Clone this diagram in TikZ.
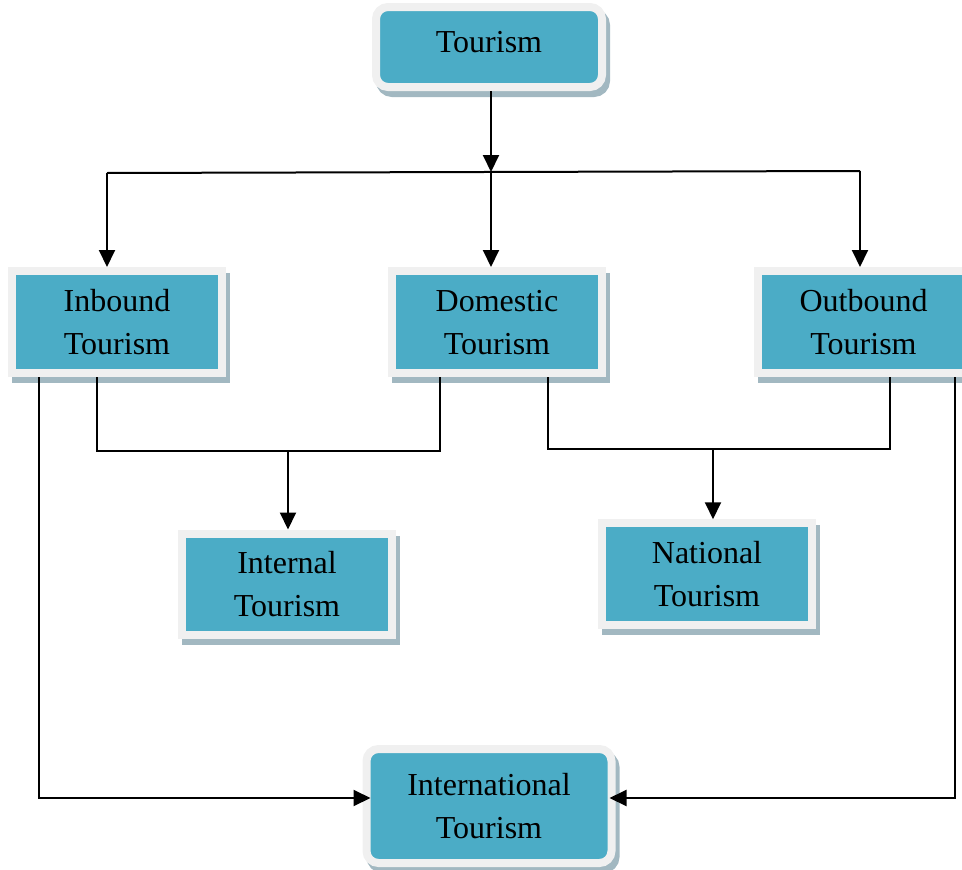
\documentclass[tikz,border=0pt]{standalone}
\usepackage{fontspec}
\setmainfont{Liberation Serif}
\usetikzlibrary{arrows.meta,shadows}
\definecolor{boxfill}{HTML}{4BACC6}
\definecolor{boxedge}{HTML}{F0F0F0}
\definecolor{shadowc}{HTML}{A2B8C1}
\tikzset{
  box/.style={draw=boxedge, line width=8pt, fill=boxfill, inner sep=0pt,
    align=center, text=black, font=\fontsize{32}{43}\selectfont,
    text depth=-6pt,
    general shadow={draw=shadowc, fill=shadowc, line width=8pt,
      shadow xshift=4pt, shadow yshift=-6pt}},
  roundbox/.style={box, rounded corners=12pt},
  link/.style={line width=2pt, black},
  arr/.style={link, -{Triangle[length=17pt,width=16pt]}}
}
\begin{document}
\begin{tikzpicture}[x=1pt,y=-1pt]
\useasboundingbox (0,0) rectangle (962,870);

% boxes
\node[roundbox, minimum width=226pt, minimum height=80pt, text depth=11pt] (tour) at (489,47) {Tourism};
\node[box, minimum width=210.5pt, minimum height=102pt] (inb) at (117,322) {Inbound\\Tourism};
\node[box, minimum width=210.5pt, minimum height=102pt] (dom) at (497,322) {Domestic\\Tourism};
\node[box, minimum width=211pt, minimum height=102pt] (outb) at (863.5,322) {Outbound\\Tourism};
\node[box, minimum width=210.5pt, minimum height=101pt] (intl) at (287,584) {Internal\\Tourism};
\node[box, minimum width=210.5pt, minimum height=101.5pt] (nat) at (707,574) {National\\Tourism};
\node[roundbox, minimum width=245pt, minimum height=114pt] (intn) at (489,806) {International\\Tourism};

% junction points
\coordinate (hub) at (491,172);
\coordinate (jl) at (107,173);
\coordinate (jr) at (860,171);
\coordinate (a1) at (97,451);
\coordinate (a2) at (440,451);
\coordinate (m1) at (288,451);
\coordinate (b1) at (548,449);
\coordinate (b2) at (890,449);
\coordinate (m2) at (713,449);
\coordinate (c1) at (39,798);
\coordinate (c2) at (955,798);

% top distribution
\draw[arr] (hub |- tour.south) -- (hub);
\draw[link] (jl) -- (jr);
\draw[arr] (jl) -- (jl |- inb.north);
\draw[arr] (hub) -- (hub |- dom.north);
\draw[arr] (jr) -- (jr |- outb.north);

% inbound + domestic -> internal
\draw[link] (a1 |- inb.south) -- (a1) -- (a2) -- (a2 |- dom.south);
\draw[arr] (m1) -- (m1 |- intl.north);

% domestic + outbound -> national
\draw[link] (b1 |- dom.south) -- (b1) -- (b2) -- (b2 |- outb.south);
\draw[arr] (m2) -- (m2 |- nat.north);

% inbound + outbound -> international
\draw[arr] (c1 |- inb.south) -- (c1) -- ([xshift=8pt]c1 -| intn.west);
\draw[arr] (c2 |- outb.south) -- (c2) -- ([xshift=-6pt]c2 -| intn.east);
\end{tikzpicture}
\end{document}
